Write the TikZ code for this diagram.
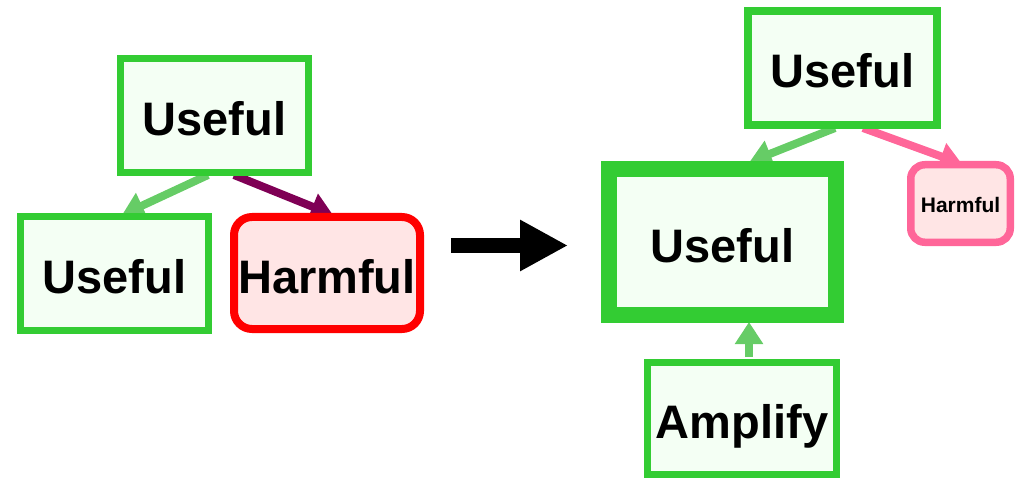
\documentclass[tikz,border=0pt]{standalone}
\usepackage{fontspec}
\setmainfont{Liberation Sans}
\usetikzlibrary{arrows.meta,backgrounds}
\definecolor{gborder}{HTML}{33CC33}
\definecolor{gfill}{HTML}{F4FFF4}
\definecolor{garrow}{HTML}{66CC66}
\definecolor{rfill}{HTML}{FFE5E5}
\definecolor{pborder}{HTML}{FF6699}
\definecolor{parrow}{HTML}{7F0055}
\tikzset{
  bigtext/.style={font=\fontsize{47}{50}\selectfont\bfseries, text height=40pt, text depth=0pt},
  gbox/.style={draw=gborder, fill=gfill, line width=7pt, inner sep=0pt, bigtext},
  hbox/.style={draw=red, fill=rfill, line width=8pt, rounded corners=18pt, inner sep=0pt, bigtext},
  sbox/.style={draw=pborder, fill=rfill, line width=7.5pt, rounded corners=14pt, inner sep=0pt,
    font=\fontsize{21}{24}\selectfont\bfseries, text height=17.6pt, text depth=0pt},
  conn/.style={line width=8pt, -{Triangle[width=27pt,length=22pt]}},
}
\begin{document}
\begin{tikzpicture}[x=1pt,y=-1pt]
\useasboundingbox (0,0) rectangle (1016,478);
% left group
\node[gbox, minimum width=188pt, minimum height=114pt] (A) at (214.5,115.5) {Useful};
\node[gbox, minimum width=188pt, minimum height=114pt] (B) at (114.5,273.5) {Useful};
\node[hbox, minimum width=186pt, minimum height=112pt] (C) at (327,273) {Harmful};
% big arrow
\coordinate (bs) at (451,245.5);
\coordinate (be) at (568,245.5);
\draw[line width=15pt, -{Triangle[width=48pt,length=48pt]}] (bs) -- (be);
% right group
\node[gbox, line width=8pt, minimum width=189pt, minimum height=114pt] (D) at (842.5,68) {Useful};
\node[gbox, line width=16pt, minimum width=227pt, minimum height=146pt] (E) at (722.5,242) {Useful};
\node[sbox, minimum width=99.5pt, minimum height=77.5pt] (F) at (960.5,203.5) {Harmful};
\node[gbox, minimum width=189pt, minimum height=112pt] (G) at (742,418.5) {Amplify};
\begin{scope}[on background layer]
\draw[conn, garrow] ([xshift=-6.5pt,yshift=1pt]A.south) -- ([xshift=7.5pt,yshift=-2pt]B.north);
\draw[conn, parrow] ([xshift=19.5pt,yshift=1pt]A.south) -- ([xshift=6pt,yshift=-2pt]C.north);
\draw[conn, garrow] ([xshift=-7.5pt,yshift=1pt]D.south) -- ([xshift=27pt,yshift=-1pt]E.north);
\draw[conn, pborder] ([xshift=20.5pt,yshift=1pt]D.south) -- ([xshift=1.5pt,yshift=-3pt]F.north);
\draw[conn, garrow] ([xshift=7pt,yshift=2pt]G.north) -- ([xshift=26.5pt,yshift=1pt]E.south);
\end{scope}
\end{tikzpicture}
\end{document}
